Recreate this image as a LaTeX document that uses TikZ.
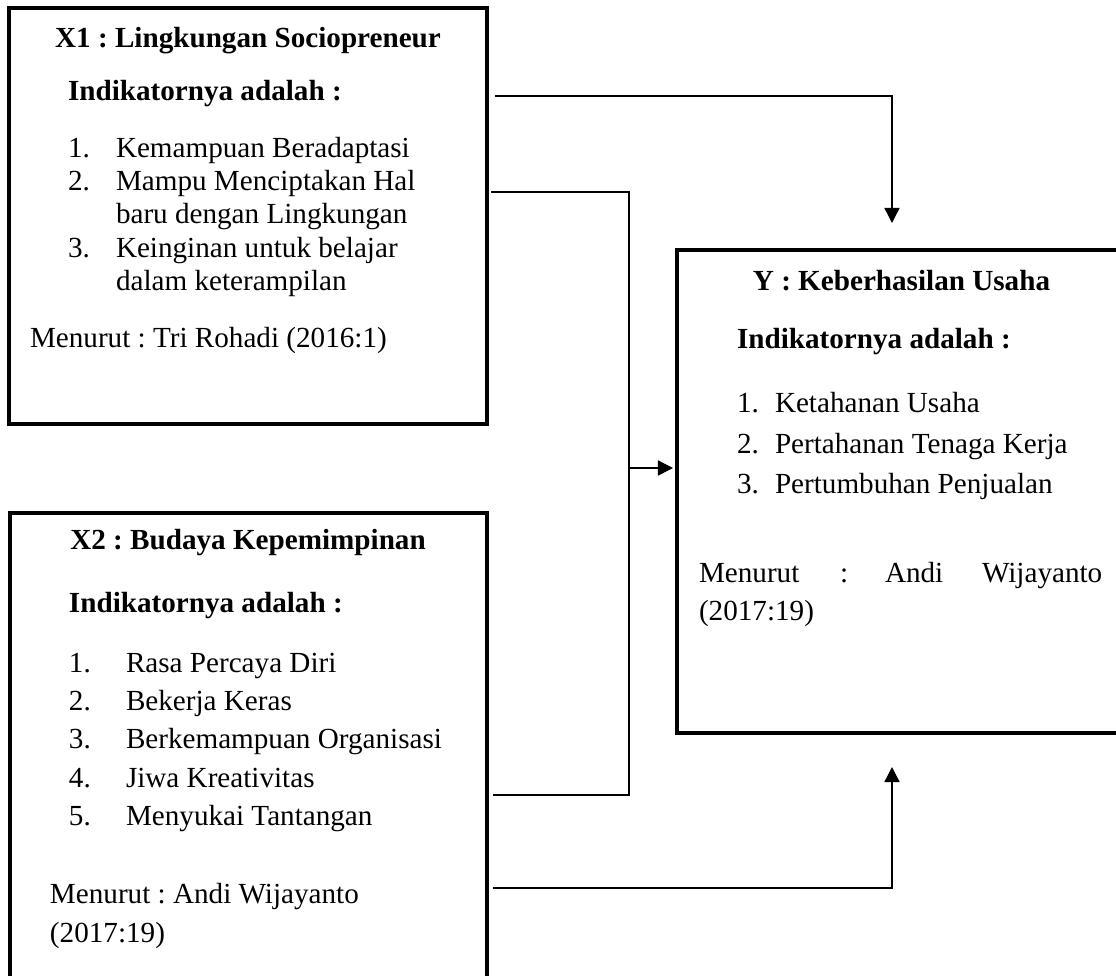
\documentclass[tikz,border=0pt]{standalone}
\usepackage{fontspec}
\setmainfont{Liberation Serif}
\usetikzlibrary{arrows.meta}
\frenchspacing
\begin{document}
\frenchspacing
\begin{tikzpicture}[x=0.4117pt,y=-0.4117pt,
  box/.style={draw,line width=1.3pt,inner sep=0,outer sep=0},
  txt/.style={anchor=base west,inner sep=0,outer sep=0,font=\fontsize{12}{13.8}\selectfont},
  btxt/.style={anchor=base west,inner sep=0,outer sep=0,font=\fontsize{12}{13.8}\selectfont\bfseries},
  ttl/.style={anchor=base,inner sep=0,outer sep=0,font=\fontsize{12}{13.8}\selectfont\bfseries},
  conn/.style={line width=0.6pt},
  arr/.style={line width=0.6pt,-{Triangle[length=6.2pt,width=6.2pt]}}]
\clip (0,0) rectangle (1116,975);
\fill[white] (0,0) rectangle (1116,975);

% boxes
\node[box,minimum width=478*0.4117pt,minimum height=416*0.4117pt] (x1) at (248,216) {};
\node[box,minimum width=477*0.4117pt,minimum height=487*0.4117pt] (x2) at (248.5,756.5) {};
\node[box,minimum width=449*0.4117pt,minimum height=483*0.4117pt] (y) at (901.5,491.5) {};

% X1 texts
\node[ttl] (x1t) at (248,47) {X1 : Lingkungan Sociopreneur};
\node[btxt] (x1i) at (68,100) {Indikatornya adalah :};
\node[txt] (x1n1) at (68,157) {1.};
\node[txt] (x1a1) at (116,157) {Kemampuan Beradaptasi};
\node[txt] (x1n2) at (68,190) {2.};
\node[txt] (x1a2) at (116,190) {Mampu Menciptakan Hal};
\node[txt] (x1b2) at (116,223) {baru dengan Lingkungan};
\node[txt] (x1n3) at (68,257) {3.};
\node[txt] (x1a3) at (116,257) {Keinginan untuk belajar};
\node[txt] (x1b3) at (116,290) {dalam keterampilan};
\node[txt] (x1m) at (30,347) {Menurut : Tri Rohadi (2016:1)};

% X2 texts
\node[ttl] (x2t) at (248,549) {X2 : Budaya Kepemimpinan};
\node[btxt] (x2i) at (69,612) {Indikatornya adalah :};
\node[txt] (x2n1) at (69,672) {1.};
\node[txt] (x2a1) at (126,672) {Rasa Percaya Diri};
\node[txt] (x2n2) at (69,710) {2.};
\node[txt] (x2a2) at (126,710) {Bekerja Keras};
\node[txt] (x2n3) at (69,748) {3.};
\node[txt] (x2a3) at (126,748) {Berkemampuan Organisasi};
\node[txt] (x2n4) at (69,787) {4.};
\node[txt] (x2a4) at (126,787) {Jiwa Kreativitas};
\node[txt] (x2n5) at (69,825) {5.};
\node[txt] (x2a5) at (126,825) {Menyukai Tantangan};
\node[txt] (x2m) at (50,903) {Menurut : Andi Wijayanto};
\node[txt] (x2m2) at (50,942) {(2017:19)};

% Y texts
\node[ttl] (yt) at (901.5,290) {Y : Keberhasilan Usaha};
\node[btxt] (yi) at (737,348) {Indikatornya adalah :};
\node[txt] (yn1) at (737,412) {1.};
\node[txt] (ya1) at (775,412) {Ketahanan Usaha};
\node[txt] (yn2) at (737,453) {2.};
\node[txt] (ya2) at (775,453) {Pertahanan Tenaga Kerja};
\node[txt] (yn3) at (737,493) {3.};
\node[txt] (ya3) at (775,493) {Pertumbuhan Penjualan};
\node[txt] (ym1) at (699,582) {Menurut};
\node[txt] (ym2) at (840,582) {:};
\node[txt] (ym3) at (885,582) {Andi};
\node[txt] (ym4) at (982,582) {Wijayanto};
\node[txt] (ym5) at (699,620) {(2017:19)};

% connectors
\coordinate (c1s) at (495,96);
\coordinate (c1e) at (892,223);
\draw[arr] (c1s) -| (c1e);

\coordinate (c2s) at (491,192);
\coordinate (c2b) at (629,795);
\coordinate (c3s) at (493,795);
\draw[conn] (c2s) -| (c2b) -- (c3s);

\coordinate (mj) at (629,468);
\coordinate (me) at (673,468);
\draw[arr] (mj) -- (me);

\coordinate (c4s) at (493,888);
\coordinate (c4e) at (892,767);
\draw[arr] (c4s) -| (c4e);
\end{tikzpicture}
\end{document}
